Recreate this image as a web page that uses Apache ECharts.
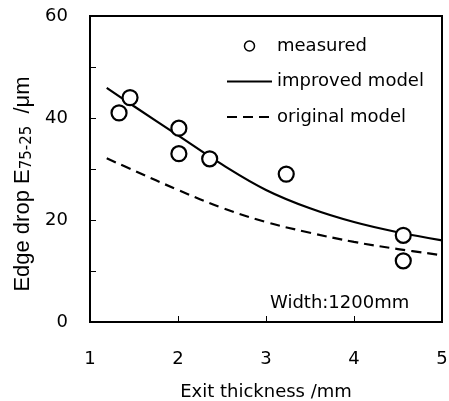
<!DOCTYPE html>
<html>
<head>
<meta charset="utf-8">
<script src="https://cdn.jsdelivr.net/npm/echarts@6/dist/echarts.min.js"></script>
<style>html,body{margin:0;padding:0;background:#fff;}#c{width:449px;height:401px;}</style>
</head>
<body>
<div id="c"></div>
<script>
var measuredX = [1.33, 1.455, 2.01, 2.01, 2.36, 3.23, 4.56, 4.56];
var measuredY = [41, 44, 38, 33, 32, 29, 17, 12];
var improvedX = [1.19, 1.5, 2, 2.5, 3, 3.5, 4, 4.5, 5];
var improvedY = [45.9, 42.3, 36.6, 30.9, 25.9, 22.3, 19.6, 17.6, 16.0];
var originalX = [1.19, 1.5, 2, 2.5, 3, 3.5, 4, 4.5, 5];
var originalY = [32.1, 29.7, 25.9, 22.4, 19.6, 17.5, 15.7, 14.3, 13.1];
var xTicks = [1, 2, 3, 4, 5];
var yTicks = [0, 20, 40, 60];
var annotation = 'Width:1200mm';

function pairs(xs, ys) { return xs.map(function (x, i) { return [x, ys[i]]; }); }

var FONT = 'DejaVu Sans';
var FONT2 = 'Liberation Sans';
var hidden = {color: 'rgba(0,0,0,0)', borderColor: 'rgba(0,0,0,0)', borderWidth: 0};
var chart = echarts.init(document.getElementById('c'), null, {renderer: 'canvas'});
chart.setOption({
  backgroundColor: '#fff',
  animation: false,
  grid: {left: 90, right: 7, top: 16, bottom: 79, show: true, borderColor: '#000', borderWidth: 2,
    backgroundColor: 'transparent', containLabel: false, outerBoundsMode: 'none'},
  xAxis: {
    type: 'value', min: 1, max: 5, interval: 1,
    axisLine: {show: true, lineStyle: {color: '#000', width: 2}},
    axisTick: {show: true, inside: true, length: 6, lineStyle: {color: '#000', width: 1}},
    axisLabel: {color: '#000', fontSize: 18, fontFamily: FONT, margin: 28,
      formatter: function (v) { return xTicks.indexOf(v) >= 0 ? String(v) : ''; }},
    splitLine: {show: false},
    name: 'Exit thickness /mm', nameLocation: 'middle', nameGap: 61,
    nameTextStyle: {color: '#000', fontSize: 18, fontFamily: FONT}
  },
  yAxis: {
    type: 'value', min: 0, max: 60, interval: 10,
    axisLine: {show: true, lineStyle: {color: '#000', width: 2}},
    axisTick: {show: true, inside: true, length: 6, lineStyle: {color: '#000', width: 1}},
    axisLabel: {color: '#000', fontSize: 18, fontFamily: FONT, margin: 22,
      formatter: function (v) { return yTicks.indexOf(v) >= 0 ? String(v) : ''; }},
    splitLine: {show: false},
    name: 'Edge drop E{sub|75-25}  /μm', nameLocation: 'middle', nameGap: 42,
    nameTextStyle: {color: '#000', fontSize: 22, fontFamily: FONT2, padding: [0, 30, 0, 0],
      rich: {sub: {fontSize: 15, fontFamily: FONT, color: '#000', verticalAlign: 'bottom'}}}
  },
  legend: {
    orient: 'vertical', left: 221, top: 32, itemWidth: 45, itemHeight: 10, itemGap: 17.5,
    textStyle: {color: '#000', fontSize: 18, fontFamily: FONT}, itemTextGap: 5,
    data: [
      {name: 'measured', icon: 'circle', itemStyle: {color: '#fff', borderColor: '#000', borderWidth: 1.5}},
      {name: 'improved model', itemStyle: hidden},
      {name: 'original model', itemStyle: hidden}
    ]
  },
  graphic: [{
    type: 'text', x: 270, y: 303,
    style: {text: annotation, fill: '#000', fontSize: 18, fontFamily: FONT, verticalAlign: 'middle', align: 'left'}
  }],
  series: [
    {name: 'improved model', type: 'line', data: pairs(improvedX, improvedY), smooth: 0.4, symbol: 'none',
      lineStyle: {color: '#000', width: 2.2}, itemStyle: {color: '#000'}, z: 2},
    {name: 'original model', type: 'line', data: pairs(originalX, originalY), smooth: 0.4, symbol: 'none',
      lineStyle: {color: '#000', width: 2.2, type: [10, 6]}, itemStyle: {color: '#000'}, z: 2},
    {name: 'measured', type: 'scatter', data: pairs(measuredX, measuredY), symbol: 'circle', symbolSize: 15,
      itemStyle: {color: '#fff', borderColor: '#000', borderWidth: 2.2, opacity: 1}, z: 3}
  ]
});
</script>
</body>
</html>
